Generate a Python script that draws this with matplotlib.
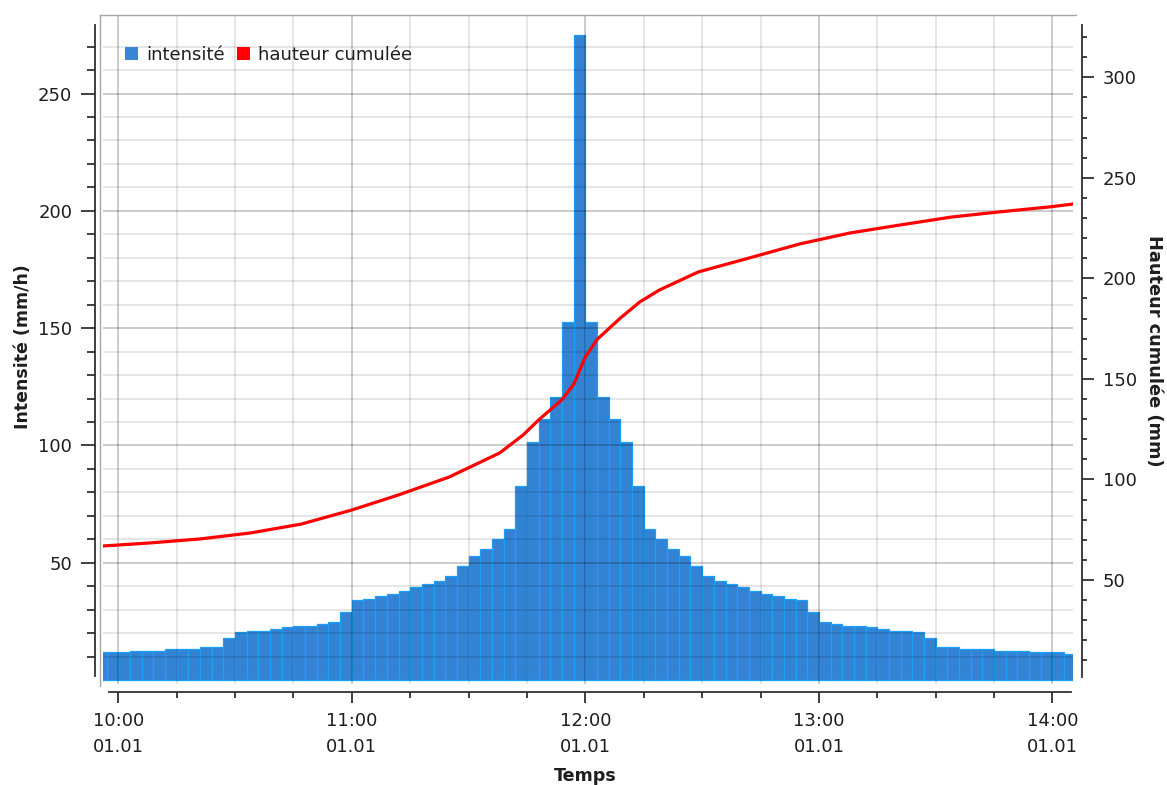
import matplotlib
matplotlib.use("Agg")
import matplotlib.pyplot as plt
import matplotlib.dates as mdates
from matplotlib.patches import Patch
from matplotlib.lines import Line2D
import pandas as pd

W, H, DPI = 1167, 785, 100

# Rain intensity (mm/h) per 3-minute step, first step starting at 09:54
step_minutes = 3
first_step = "2000-01-01 09:54"
intensite = [
    11.8, 11.8, 11.8, 12.5, 12.5, 12.5, 13.4, 13.4, 13.4, 14.2,
    14.2, 17.8, 20.3, 21.0, 21.0, 21.9, 22.6, 23.1, 23.1, 24.0,
    24.7, 28.9, 34.0, 34.7, 35.9, 36.7, 38.1, 39.5, 40.9, 42.3,
    44.5, 48.7, 53.0, 55.7, 60.0, 64.2, 82.7, 101.6, 111.1, 120.8,
    152.7, 274.9, 152.7, 120.8, 111.1, 101.6, 82.7, 64.2, 60.0, 55.7,
    53.0, 48.7, 44.5, 42.3, 40.9, 39.5, 38.1, 36.7, 35.9, 34.7,
    34.0, 28.9, 24.7, 24.0, 23.1, 23.1, 22.6, 21.9, 21.0, 21.0,
    20.3, 17.8, 14.2, 14.2, 13.4, 13.4, 13.4, 12.5, 12.5, 12.5,
    11.8, 11.8, 11.8, 11.1,
]

# Cumulative rain height (mm), minutes after 10:00
cumul_minutes = [-4, 8, 21, 34, 47, 60, 72, 85, 98, 104, 108, 114, 117, 120,
                 123, 129, 134, 139, 149, 162, 175, 188, 201, 214, 226, 239, 245.4]
cumul_mm = [66.9, 68.4, 70.4, 73.4, 77.8, 84.8, 92.3, 101.2, 113.2, 122.1, 129.6,
            139.7, 147.3, 161.0, 169.6, 180.3, 188.3, 194.2, 203.2, 210.1, 217.1,
            222.6, 226.6, 230.5, 233.0, 235.5, 237.0]

# Axis ticks
left_major = [50, 100, 150, 200, 250]
left_minor = list(range(10, 280, 10))
right_major = [50, 100, 150, 200, 250, 300]
right_minor = list(range(10, 330, 10))

BAR_FACE = "#3483d3"
BAR_EDGE = "#1aa0fb"
LINE_RED = "#ff0000"
TXT = "#1e1e1e"
SPINE = "#303030"

plt.rcParams["font.family"] = ["DejaVu Sans"]


def fx(px):
    return px / W


def fy(py):
    return 1 - py / H


t0 = pd.Timestamp("2000-01-01 10:00")
bar_times = pd.date_range(first_step, periods=len(intensite), freq=f"{step_minutes}min")
line_times = [t0 + pd.Timedelta(minutes=m) for m in cumul_minutes]

fig = plt.figure(figsize=(W / DPI, H / DPI), dpi=DPI)
ax = fig.add_axes([fx(102.7), fy(684), (1073.3 - 102.7) / W, (684 - 15) / H])

ax.bar(bar_times, intensite, width=pd.Timedelta(minutes=step_minutes), align="edge",
       color=BAR_FACE, edgecolor=BAR_EDGE, linewidth=0.9, zorder=1)

x_left = mdates.date2num(t0 - pd.Timedelta(minutes=4))
x_right = mdates.date2num(t0 + pd.Timedelta(minutes=245.35))
ax.set_xlim(x_left, x_right)
ax.set_ylim(-1.7, 283.5)

ax.set_yticks(left_major)
ax.set_yticks(left_minor, minor=True)
ax.set_yticklabels([str(v) for v in left_major])

ax.xaxis.set_major_locator(mdates.HourLocator())
ax.xaxis.set_minor_locator(mdates.MinuteLocator(byminute=[15, 30, 45]))
ax.xaxis.set_major_formatter(mdates.DateFormatter("%H:%M\n%d.%m"))

ax.set_axisbelow(False)
ax.grid(which="major", color="black", alpha=0.26, linewidth=1.1)
ax.grid(which="minor", color="black", alpha=0.13, linewidth=1.1)

for s in ("top", "right"):
    ax.spines[s].set_visible(False)
ax.spines["left"].set_position(("outward", 5.5))
ax.spines["left"].set_bounds(1.7, 279.2)
ax.spines["bottom"].set_position(("outward", 6.0))
ax.spines["bottom"].set_bounds(mdates.date2num(t0 - pd.Timedelta(minutes=2.4)),
                               mdates.date2num(t0 + pd.Timedelta(minutes=244.8)))
for s in ("left", "bottom"):
    ax.spines[s].set_color(SPINE)
    ax.spines[s].set_linewidth(1.3)

ax.tick_params(axis="y", which="major", length=10, width=1.3, color=SPINE,
               labelsize=13, labelcolor=TXT, pad=6.5)
ax.tick_params(axis="y", which="minor", length=5.5, width=1.3, color=SPINE)
ax.tick_params(axis="x", which="major", length=8, width=1.3, color=SPINE,
               labelsize=13, labelcolor=TXT, pad=6)
ax.tick_params(axis="x", which="minor", length=4.3, width=1.3, color=SPINE)
for lab in ax.get_xticklabels():
    lab.set_linespacing(1.62)

# Cumulative height on the secondary axis
ax2 = ax.twinx()
ax2.plot(line_times, cumul_mm, color=LINE_RED, linewidth=2.3, solid_joinstyle="round",
         zorder=3)
ax2.set_xlim(x_left, x_right)
ax2.set_ylim(-1.74, 331.0)
ax2.set_yticks(right_major)
ax2.set_yticks(right_minor, minor=True)
ax2.set_yticklabels([str(v) for v in right_major])
for s in ("top", "left", "bottom"):
    ax2.spines[s].set_visible(False)
ax2.spines["right"].set_position(("outward", 6.0))
ax2.spines["right"].set_bounds(1.7, 326)
ax2.spines["right"].set_color(SPINE)
ax2.spines["right"].set_linewidth(1.3)
ax2.tick_params(axis="y", which="major", length=8.6, width=1.3, color=SPINE,
                labelsize=13, labelcolor=TXT, pad=6.5)
ax2.tick_params(axis="y", which="minor", length=3.6, width=1.3, color=SPINE)

# Plot-area frame (top and left edges)
fig.add_artist(Line2D([fx(99.5), fx(99.5)], [fy(15), fy(686)], transform=fig.transFigure,
                      color="#a6a6a6", linewidth=1.0))
fig.add_artist(Line2D([fx(99.5), fx(1075.5)], [fy(15), fy(15)], transform=fig.transFigure,
                      color="#a6a6a6", linewidth=1.0))

# Axis titles
fig.text(fx(23), fy(347), "Intensité (mm/h)", rotation=90, ha="center", va="center",
         fontsize=12.5, fontweight="bold", color=TXT)
fig.text(fx(1154), fy(351), "Hauteur cumulée (mm)", rotation=270, ha="center", va="center",
         fontsize=12.8, fontweight="bold", color=TXT)
fig.text(fx(585), fy(776), "Temps", ha="center", va="center",
         fontsize=12.6, fontweight="bold", color=TXT)

handles = [Patch(facecolor="#3a86d6", edgecolor="none"),
           Patch(facecolor=LINE_RED, edgecolor="none")]
fig.legend(handles, ["intensité", "hauteur cumulée"], loc="center left",
           bbox_to_anchor=(fx(125), fy(55)), ncol=2, frameon=False, fontsize=13,
           borderpad=0, borderaxespad=0, handlelength=0.72, handleheight=0.72,
           handletextpad=0.43, columnspacing=0.72, labelcolor=TXT)

fig.savefig("out.png", dpi=DPI)
